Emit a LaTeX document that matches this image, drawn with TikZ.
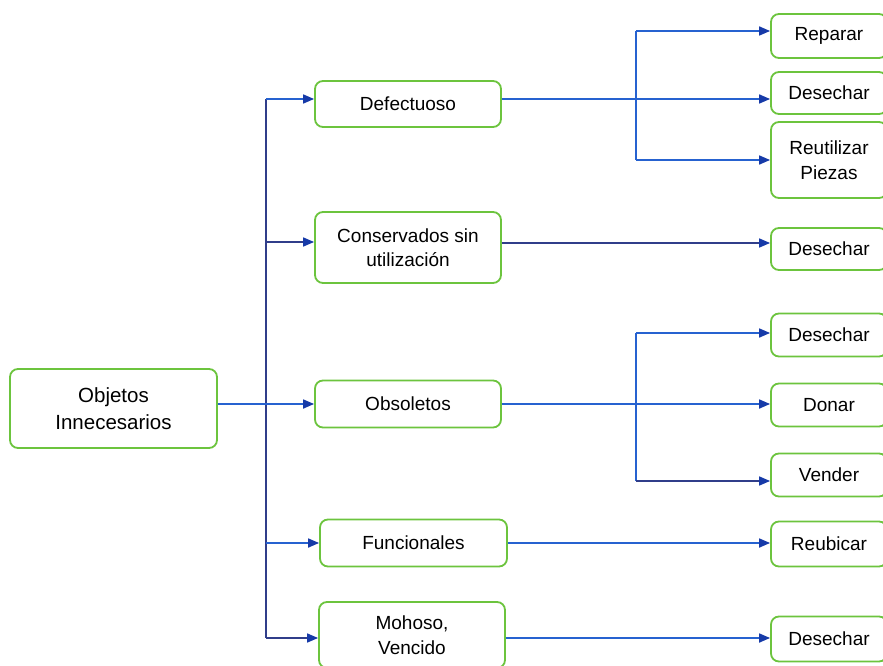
\documentclass[tikz,border=0pt]{standalone}
\usepackage{fontspec}
\setmainfont{Liberation Sans}
\usetikzlibrary{arrows.meta}

\definecolor{boxgreen}{RGB}{108,196,62}
\definecolor{linkblue}{RGB}{38,98,208}
\definecolor{linknavy}{RGB}{48,62,138}
\definecolor{tipblue}{RGB}{22,58,168}

\tikzset{
  item/.style={draw=boxgreen, line width=1.8pt, rounded corners=8pt,
    fill=white, align=center, inner sep=0pt, text=black,
    font=\fontsize{19}{24.5}\selectfont},
  link/.style={draw=linkblue, line width=1.7pt},
  navylink/.style={draw=linknavy, line width=1.6pt},
  tipshape/.style={-{Triangle[length=11pt,width=9pt,fill=tipblue,color=tipblue]}},
  arrowlink/.style={link, tipshape},
  navyarrow/.style={navylink, tipshape},
}

\begin{document}
\begin{tikzpicture}[x=1pt,y=-1pt]
\useasboundingbox (0,0) rectangle (883,666);
\clip (0,0) rectangle (883,666);

% root
\node[item, minimum width=207pt, minimum height=79pt,
  font=\fontsize{20.5}{27}\selectfont] (obj) at (113.5,408.5) {Objetos\\Innecesarios};

% categories
\node[item, minimum width=186pt, minimum height=46pt] (def)  at (408,104)   {Defectuoso};
\node[item, minimum width=186pt, minimum height=71pt] (cons) at (408,247.5) {Conservados sin\\utilización};
\node[item, minimum width=186pt, minimum height=47pt] (obs)  at (408,404)   {Obsoletos};
\node[item, minimum width=187pt, minimum height=47pt] (fun)  at (413.5,543) {Funcionales};
\node[item, minimum width=186pt, minimum height=66pt] (moh)  at (412,635)   {Mohoso,\\Vencido};

% actions
\node[item, minimum width=116pt, minimum height=44pt] (rep)   at (829,36)  {Reparar};
\node[item, minimum width=116pt, minimum height=42pt] (des1)  at (829,93)  {Desechar};
\node[item, minimum width=116pt, minimum height=76pt] (reu)   at (829,160) {Reutilizar\\Piezas};
\node[item, minimum width=116pt, minimum height=42pt] (des2)  at (829,249) {Desechar};
\node[item, minimum width=116pt, minimum height=43pt] (des3)  at (829,335) {Desechar};
\node[item, minimum width=116pt, minimum height=43pt] (don)   at (829,405) {Donar};
\node[item, minimum width=116pt, minimum height=43pt] (ven)   at (829,475) {Vender};
\node[item, minimum width=116pt, minimum height=45pt] (reub)  at (829,544) {Reubicar};
\node[item, minimum width=116pt, minimum height=45pt] (des4)  at (829,639) {Desechar};

% junction columns
\coordinate (spine) at (266,0);
\coordinate (forkA) at (636,0);

% entry and exit points
\coordinate (defIn)   at ([yshift=5pt]def.west);
\coordinate (defOut)  at ([yshift=5pt]def.east);
\coordinate (consIn)  at ([yshift=5.5pt]cons.west);
\coordinate (consOut) at ([yshift=4.5pt]cons.east);
\coordinate (mohIn)   at ([yshift=-3pt]moh.west);
\coordinate (mohOut)  at ([yshift=-3pt]moh.east);
\coordinate (repIn)   at ([yshift=5pt]rep.west);
\coordinate (des3In)  at ([yshift=2pt]des3.west);
\coordinate (venIn)   at ([yshift=-6pt]ven.west);

% root to the categories
\draw[navylink] (spine |- defIn) -- (spine |- mohIn);
\draw[arrowlink] (obs.west -| obj.east) -- (obs.west);
\draw[arrowlink] (spine |- defIn) -- (defIn);
\draw[navyarrow] (spine |- consIn) -- (consIn);
\draw[arrowlink] (spine |- fun.west) -- (fun.west);
\draw[navyarrow] (spine |- mohIn) -- (mohIn);

% Defectuoso
\draw[link] (forkA |- repIn) -- (forkA |- reu.west);
\draw[arrowlink] (defOut) -- (defOut -| des1.west);
\draw[arrowlink] (forkA |- repIn) -- (repIn);
\draw[arrowlink] (forkA |- reu.west) -- (reu.west);

% Conservados sin utilizacion
\draw[navyarrow] (consOut) -- (consOut -| des2.west);

% Obsoletos
\draw[link] (forkA |- des3In) -- (forkA |- venIn);
\draw[arrowlink] (obs.east) -- (obs.east -| don.west);
\draw[arrowlink] (forkA |- des3In) -- (des3In);
\draw[navyarrow] (forkA |- venIn) -- (venIn);

% Funcionales and Mohoso
\draw[arrowlink] (fun.east) -- (fun.east -| reub.west);
\draw[arrowlink] (mohOut) -- (mohOut -| des4.west);
\end{tikzpicture}
\end{document}
